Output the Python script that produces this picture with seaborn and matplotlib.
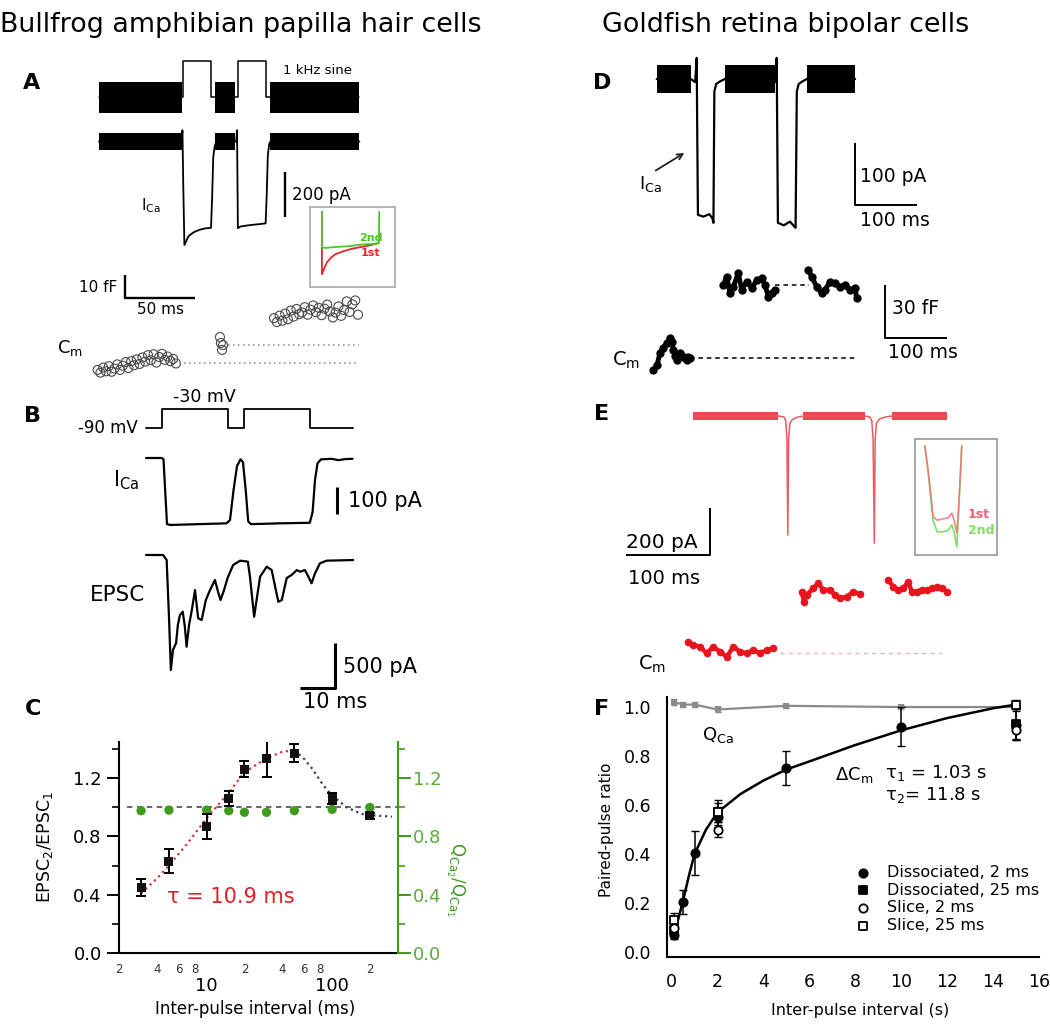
import numpy as np
import pandas as pd
import seaborn as sns
import matplotlib.pyplot as plt
from matplotlib.ticker import LogLocator, FuncFormatter, FixedLocator

sns.set_style("white", {"axes.edgecolor": "black", "text.color": "black",
                        "xtick.color": "black", "ytick.color": "black"})
plt.rcParams['font.family'] = ['DejaVu Sans']
plt.rcParams['mathtext.fontset'] = 'dejavusans'

# ---------------- data (time in ms, current in pA, Cm in fF) ----------------
# A  bullfrog hair cell: sine + step command, Ca current, Cm
a_stim_t = [0, 60, 60, 80, 80, 99, 99, 119, 119, 186]
a_stim_v = [-90, -90, -30, -30, -90, -90, -30, -30, -90, -90]
a_sine_on = [0, 83, 122]
a_sine_off = [59, 97, 186]
a_ica_t = [0, 59, 59.6, 60.2, 61, 64, 68, 72, 76, 80, 80.8, 81.6, 82.5, 83.5,
           97, 98, 98.6, 99.2, 101, 105, 110, 115, 119, 119.8, 120.6, 121.5, 122, 186]
a_ica_i = [0, 0, 50, -200, -460, -420, -402, -392, -386, -384, -250, -70, -25, -5,
           0, 0, 50, -385, -378, -374, -370, -367, -364, -240, -60, -15, -3, 0]
a_cm1_t = [-1, 1, 3, 5, 7, 9, 11, 13, 15, 17, 19, 21, 23, 25, 27, 29, 31, 33, 35,
           37, 39, 41, 43, 45, 47, 49, 51, 53, 55]
a_cm1_c = [-3.0, -4.2, -2.0, -3.6, -1.4, -3.8, -2.4, -0.6, -3.0, -1.2, 0.4, -2.2,
           0.8, -1.0, 1.6, -0.4, 2.4, 0.6, 3.4, 1.2, 3.8, 0.2, 2.6, 4.0, 1.4, 2.8,
           0.8, 1.8, -0.2]
a_cm2_t = [86.4, 87.1, 88.6, 87.9]
a_cm2_c = [11.3, 8.7, 7.8, 5.7]
a_cm3_t = [125, 127, 129, 131, 133, 135, 137, 139, 141, 143, 145, 147, 149, 151,
           153, 155, 157, 159, 161, 163, 165, 167, 169, 171, 173, 175, 177, 179,
           181, 183, 185]
a_cm3_c = [19.5, 17.8, 20.6, 18.4, 21.5, 19.0, 22.8, 20.2, 23.5, 21.2, 22.0, 24.3,
           21.0, 23.2, 25.0, 22.1, 24.0, 20.8, 23.6, 25.4, 22.4, 19.8, 21.9, 24.6,
           20.5, 23.0, 26.8, 22.2, 25.5, 27.2, 21.0]
a_cm_levels = [0, 7.8]
a_cm_level_start = [57, 92]
a_inset_t = [0.14, 0.14, 0.17, 0.20, 0.25, 0.30, 0.40, 0.50, 0.60, 0.70, 0.81]
a_inset_1st = [0.94, 0.16, 0.24, 0.31, 0.37, 0.41, 0.45, 0.48, 0.50, 0.52, 0.55]
a_inset_2nd_t = [0.14, 0.14, 0.20, 0.30, 0.45, 0.60, 0.75, 0.81, 0.815]
a_inset_2nd = [0.94, 0.49, 0.49, 0.50, 0.51, 0.53, 0.54, 0.55, 0.94]

# B  step command, Ca current, EPSC
b_stim_t = [0, 4.6, 4.6, 23.4, 23.4, 28, 28, 46.9, 46.9, 59]
b_stim_v = [-90, -90, -30, -30, -90, -90, -30, -30, -90, -90]
b_ica_t = [0, 4.5, 5.0, 5.6, 6.0, 7, 15, 23, 24.0, 25.0, 26.0, 27.0, 27.7, 28.5,
           29.2, 30, 38, 46.8, 47.6, 48.3, 49.0, 50, 53, 55, 57, 59]
b_ica_i = [0, 0, -5, -150, -245, -248, -245, -242, -230, -120, -30, -5, -15, -120,
           -235, -245, -242, -240, -200, -80, -20, -5, -3, -8, -4, -3]
b_epsc_t = [0, 4.9, 5.9, 6.6, 7.1, 7.7, 8.6, 9.1, 9.7, 10.5, 11.1, 11.6, 12.3, 13.1,
            14.0, 14.9, 15.9, 17.1, 18.3, 19.7, 20.6, 21.3, 22.3, 23.3, 24.9, 26.9,
            29.1, 29.7, 30.9, 31.6, 32.6, 34.5, 35.9, 36.9, 37.8, 38.8, 40.2, 41.6,
            43.1, 44.0, 45.4, 46.4, 47.3, 48.3, 49.7, 51.6, 59.2]
b_epsc_i = [0, 0, -56, -722, -1278, -1056, -978, -778, -667, -630, -797, -1019,
            -778, -611, -389, -703, -722, -500, -389, -278, -411, -500, -389, -256,
            -111, -63, -74, -241, -686, -500, -241, -130, -167, -352, -519, -500,
            -256, -222, -167, -186, -167, -241, -314, -203, -92, -63, -56]

# C  paired-pulse ratio vs interval (ms)
c_interval = [3, 5, 10, 15, 20, 30, 50, 100, 200]
c_epsc = [0.45, 0.63, 0.87, 1.06, 1.26, 1.335, 1.37, 1.06, 0.94]
c_epsc_err = [0.06, 0.08, 0.085, 0.05, 0.055, 0.125, 0.06, 0.04, 0.02]
c_qca = [0.976, 0.98, 0.98, 0.976, 0.965, 0.965, 0.976, 0.985, 0.998]
c_rise_x = [3, 4, 5, 7, 10, 15, 20, 30, 40, 50]
c_rise_y = [0.41, 0.51, 0.60, 0.75, 0.925, 1.10, 1.24, 1.335, 1.38, 1.39]
c_decay_x = [50, 60, 70, 85, 100, 130, 170, 200, 300]
c_decay_y = [1.39, 1.33, 1.26, 1.15, 1.08, 1.00, 0.955, 0.945, 0.935]

# D  goldfish bipolar cell
d_sine_on = [0, 110, 242]
d_sine_off = [55, 191, 320]
d_ica_t = [0, 55, 62, 64.5, 65.5, 66.5, 75, 85, 90, 91.5, 93, 96, 102, 110, 191,
           192.5, 193.5, 194.5, 195.5, 205, 215, 222, 224, 226, 229, 235, 242, 320]
d_ica_i = [0, 0, -5, 34, -100, -219, -222, -218, -225, -232, -20, -8, -4, 0, 0,
           -5, 34, -100, -232, -236, -230, -238, -240, -20, -8, -4, 0, 0]
d_cm1_t = [-5.5, 0.5, 5.3, 10.2, 16.1, 21.5, 24.7, 26.8, 29.5, 32.3, 34.4, 37.6,
           40.8, 45.6, 48.9, 51.0, 53.7]
d_cm1_c = [-6.6, -3.8, 3.0, 5.8, 8.7, 11.5, 9.2, 4.7, 1.3, -1.0, 0.7, 3.0, 1.3,
           0.2, -1.0, 0.7, 0.2]
d_cm2_t = [107.4, 112.9, 118.2, 123.5, 131.6, 137.1, 145.2, 153.2, 161.3, 169.4,
           174.7, 180.0, 185.5, 190.8]
d_cm2_c = [41.5, 46.2, 37.0, 40.5, 48.1, 38.7, 43.4, 39.6, 44.3, 45.3, 41.5, 34.9,
           36.8, 38.7]
d_cm3_t = [244.5, 250, 258, 266, 271.5, 279.5, 287.6, 295.6, 303.7, 311.8, 319.8, 322.6]
d_cm3_c = [50.0, 46.2, 40.5, 36.8, 38.7, 43.4, 42.4, 40.5, 41.5, 38.7, 39.6, 34.0]

# E  goldfish bipolar cell, second example (red)
e_sine_on = [0, 131, 236]
e_sine_off = [101, 204, 302]
e_ica_t = [0, 101, 108, 110, 111.5, 112.5, 113.5, 115, 118, 124, 131, 204, 210,
           212.5, 214, 215.5, 216.5, 218, 222, 229, 236, 302]
e_ica_i = [0, 0, -4, -20, -100, -510, -100, -30, -15, -5, 0, 0, -4, -20, -100,
           -545, -100, -30, -12, -4, 0, 0]
e_cm1_t = [-6, 0, 8, 16, 23.8, 31.8, 39.8, 47.6, 55.6, 63.6, 71.4, 79.4, 87.4, 95.2]
e_cm1_c = [6.2, 4.4, 3.4, -0.3, 3.4, 0.6, -2.3, 3.4, 0.6, -0.3, 1.5, -0.3, 1.5, 2.5]
e_cm2_t = [129, 131.8, 135, 142.9, 148.8, 154.8, 162.7, 168.7, 174.6, 182.6, 190.5, 198.5]
e_cm2_c = [34.5, 28.9, 32.7, 36.4, 39.3, 35.5, 35.5, 32.7, 30.8, 31.7, 34.5, 33.2]
e_cm3_t = [232, 238, 244, 250, 256, 260, 266, 272, 278, 284, 290, 296, 302]
e_cm3_c = [41.1, 37.4, 35.5, 36.4, 40.2, 34.5, 34.5, 35.5, 35.5, 36.4, 37.4, 36.4, 34.5]
e_inset_t = [0.12, 0.16, 0.20, 0.22, 0.27, 0.33, 0.40, 0.45, 0.48, 0.51, 0.53, 0.55, 0.57]
e_inset_1st = [0.94, 0.73, 0.48, 0.33, 0.30, 0.31, 0.32, 0.36, 0.29, 0.19, 0.39, 0.65, 0.94]
e_inset_2nd = [0.94, 0.72, 0.43, 0.30, 0.20, 0.20, 0.21, 0.26, 0.19, 0.07, 0.35, 0.63, 0.94]

# F  paired-pulse ratio vs interval (s)
f_qca_x = [0.1, 0.5, 1, 2, 5, 10, 15]
f_qca_y = [1.02, 1.01, 1.01, 0.99, 1.005, 1.0, 1.0]
f_qca_err = [0.012, 0.01, 0.01, 0.012, 0.008, 0.01, 0.01]
f_fit_x = [0.1, 0.25, 0.5, 0.75, 1, 1.5, 2, 3, 4, 5, 6, 8, 10, 12, 14, 15]
f_fit_y = [0.06, 0.12, 0.21, 0.31, 0.40, 0.50, 0.57, 0.645, 0.70, 0.745, 0.778,
           0.845, 0.905, 0.955, 0.995, 1.01]
f_groups = ["Dissociated, 2 ms", "Dissociated, 25 ms", "Slice, 2 ms", "Slice, 25 ms"]
f_x = [[0.1, 0.5, 1, 2, 5, 10, 15], [0.1, 2, 15], [0.1, 2, 15], [0.1, 2, 15]]
f_y = [[0.07, 0.205, 0.405, 0.55, 0.75, 0.92, 0.925], [0.09, 0.57, 0.93],
       [0.10, 0.50, 0.905], [0.13, 0.57, 1.01]]
f_err = [[0.015, 0.05, 0.09, 0.04, 0.07, 0.08, 0.06], [0.02, 0.04, 0.06],
         [0.02, 0.03, 0.04], [0.03, 0.05, 0.02]]

# ---------------- layout helpers (pixel boxes) ----------------
W, H = 1050, 1028
fig = plt.figure(figsize=(W / 100, H / 100), dpi=100)


def box(x0, y0, x1, y1):
    return [x0 / W, 1 - y1 / H, (x1 - x0) / W, (y1 - y0) / H]


def trace_axes(x0, y0, x1, y1, tx, sx, vy, sy):
    # time 0 at pixel tx (sx px per unit), value 0 at pixel vy (sy px per unit)
    ax = fig.add_axes(box(x0, y0, x1, y1))
    ax.set_xlim((x0 - tx) / sx, (x1 - tx) / sx)
    ax.set_ylim((vy - y1) / sy, (vy - y0) / sy)
    ax.axis("off")
    return ax


def txt(x, y, s, size, ha="left", va="center", **kw):
    fig.text(x / W, 1 - y / H, s, fontsize=size, ha=ha, va=va, **kw)


def trace(ax, t, y, color="black", lw=1.2, **kw):
    sns.lineplot(x=t, y=y, ax=ax, sort=False, estimator=None, color=color,
                 lw=lw, legend=False, **kw)


def bands(ax, on, off, level, amp, color="black"):
    for a, b in zip(on, off):
        ax.fill_between([a, b], level - amp, level + amp, color=color, lw=0)


def bar(ax, xs, ys, lw=1.7):
    ax.plot(xs, ys, color="black", lw=lw, solid_capstyle="butt")


# titles and panel letters
txt(0, 25, "Bullfrog amphibian papilla hair cells", 19.4)
txt(786, 25, "Goldfish retina bipolar cells", 19.4, ha="center")
for letter, x, y in [("A", 32, 83), ("B", 32, 416), ("C", 33, 709),
                     ("D", 602, 83), ("E", 602, 414), ("F", 602, 709)]:
    txt(x, y, letter, 16, ha="center", weight="bold")

# ---------------- panel A ----------------
ax = trace_axes(90, 50, 370, 125, 99, 1.4, 42.75, 0.6083)
bands(ax, a_sine_on, a_sine_off, -90, 25)
trace(ax, a_stim_t, a_stim_v, lw=1.1)

ax = trace_axes(90, 120, 370, 260, 99, 1.4, 141.5, 0.225)
bands(ax, a_sine_on, a_sine_off, 0, 38)
trace(ax, a_ica_t, a_ica_i, lw=1.3)
bar(ax, [133, 133], [-135, -335])

ax = trace_axes(50, 265, 370, 385, 99, 1.4, 363, 2.3)
for lev, start in zip(a_cm_levels, a_cm_level_start):
    ax.plot([start, 186], [lev, lev], color="#9a9a9a", lw=1.2, ls=(0, (1, 2)))
for tt, cc in [(a_cm1_t, a_cm1_c), (a_cm2_t, a_cm2_c), (a_cm3_t, a_cm3_c)]:
    sns.scatterplot(x=tt, y=cc, ax=ax, marker="o", s=42, color="none",
                    edgecolor="#4a4a4a", linewidth=0.8, legend=False)
bar(ax, [18.6, 18.6, 68.6], [38.3, 28.3, 28.3])

txt(283, 70, "1 kHz sine", 9.5)
txt(292, 195, "200 pA", 12)
txt(141, 206, r"$\mathregular{I_{Ca}}$", 11)
txt(79, 287, "10 fF", 11)
txt(160, 310, "50 ms", 11, ha="center")
txt(57, 348, r"$\mathregular{C_m}$", 13)

ins = fig.add_axes(box(310, 207, 395, 287))
ins.set_xlim(0, 1)
ins.set_ylim(0, 1)
ins.set_xticks([])
ins.set_yticks([])
for sp in ins.spines.values():
    sp.set_color("#b0b0b0")
    sp.set_linewidth(1.3)
trace(ins, a_inset_t, a_inset_1st, color="#e8242c", lw=1.3)
trace(ins, a_inset_2nd_t, a_inset_2nd, color="#4cc42c", lw=1.3)
txt(359, 238, "2nd", 8, color="#4cc42c", weight="bold")
txt(361, 253, "1st", 8, color="#e8242c", weight="bold")

# ---------------- panel B ----------------
ax = trace_axes(140, 400, 360, 435, 146, 3.5, 399.5, 0.3167)
trace(ax, b_stim_t, b_stim_v, lw=1.3)
ax = trace_axes(140, 445, 360, 535, 146, 3.5, 458, 0.27)
trace(ax, b_ica_t, b_ica_i, lw=1.6)
bar(ax, [54.6, 54.6], [-107, -207], lw=2.2)
ax = trace_axes(140, 545, 360, 700, 146, 3.5, 555, 0.09)
trace(ax, b_epsc_t, b_epsc_i, lw=1.6)
bar(ax, [44, 54, 54], [-1478, -1478, -978], lw=2.2)

txt(204, 397, "-30 mV", 12.5, ha="center")
txt(138, 428, "-90 mV", 12, ha="right")
txt(113, 480, r"$\mathregular{I_{Ca}}$", 15)
txt(348, 501, "100 pA", 15)
txt(90, 595, "EPSC", 15.5)
txt(343, 667, "500 pA", 15)
txt(303, 702, "10 ms", 15)

# ---------------- panel C ----------------
axC = fig.add_axes(box(119, 742, 398, 953))
axC.set_facecolor("none")
axC.set_xscale("log")
axC.axhline(1.0, color="#555a66", lw=1.3, ls=(0, (3, 2.5)), xmin=0.03)
sns.scatterplot(x=c_interval, y=c_qca, ax=axC, color="#3f9a1e", s=45,
                edgecolor="none", legend=False, zorder=3)
trace(axC, c_rise_x, c_rise_y, color="#d8323c", lw=1.6, linestyle=":")
trace(axC, c_decay_x, c_decay_y, color="#3c4250", lw=1.6, linestyle=":")
axC.errorbar(c_interval, c_epsc, yerr=c_epsc_err, fmt="none", ecolor="black",
             elinewidth=1.4, capsize=3.5, capthick=1.4, zorder=4)
sns.scatterplot(x=c_interval, y=c_epsc, ax=axC, marker="s", color="#111111",
                s=42, edgecolor="none", legend=False, zorder=5)
axC.set_xlim(2, 335)
axC.set_ylim(0, 1.447)
axC.xaxis.set_major_locator(FixedLocator([10, 100]))
axC.xaxis.set_major_formatter(FuncFormatter(lambda v, p: "%d" % v))
axC.xaxis.set_minor_locator(LogLocator(base=10, subs=[2, 3, 4, 5, 6, 7, 8, 9]))


def minor_lab(v, p):
    m = int(round(v / 10 ** np.floor(np.log10(v))))
    return str(m) if m in (2, 4, 6, 8) else ""


axC.xaxis.set_minor_formatter(FuncFormatter(minor_lab))
axC.yaxis.set_major_locator(FixedLocator([0, 0.4, 0.8, 1.2]))
axC.yaxis.set_minor_locator(FixedLocator([0.2, 0.6, 1.0, 1.4]))
axC.yaxis.set_major_formatter(FuncFormatter(lambda v, p: "%.1f" % v))
axC.tick_params(which="major", direction="out", length=9, width=1.4, labelsize=13)
axC.tick_params(which="minor", direction="out", length=5, width=1.2)
axC.tick_params(axis="x", which="major", pad=8)
axC.tick_params(axis="x", which="minor", labelsize=8.5, pad=2, labelcolor="#333333")
axC.spines["top"].set_visible(False)
axC.spines["right"].set_visible(False)
for s in ["left", "bottom"]:
    axC.spines[s].set_linewidth(1.5)

axC2 = axC.twinx()
axC2.set_ylim(0, 1.447)
axC2.yaxis.set_major_locator(FixedLocator([0, 0.4, 0.8, 1.2]))
axC2.yaxis.set_minor_locator(FixedLocator([0.2, 0.6, 1.0, 1.4]))
axC2.yaxis.set_major_formatter(FuncFormatter(lambda v, p: "%.1f" % v))
axC2.tick_params(axis="y", which="major", direction="out", length=9, width=1.4,
                 labelsize=13, color="#3f9a1e", labelcolor="#5aab3c", pad=2)
axC2.tick_params(axis="y", which="minor", direction="out", length=5, width=1.2,
                 color="#3f9a1e")
for s in ["left", "top", "bottom"]:
    axC2.spines[s].set_visible(False)
axC2.spines["right"].set_color("#3f9a1e")
axC2.spines["right"].set_linewidth(1.5)

txt(45, 847, r"EPSC$_\mathregular{2}$/EPSC$_\mathregular{1}$", 12.5, ha="center",
    rotation=90)
txt(455, 880, r"Q$_{\mathregular{Ca_2}}$/Q$_{\mathregular{Ca_1}}$", 12, ha="center",
    rotation=270, color="#3f9a1e")
txt(255, 1009, "Inter-pulse interval (ms)", 12, ha="center")
txt(167, 897, "τ = 10.9 ms", 15, color="#e0202a")

# ---------------- panel D ----------------
ax = trace_axes(640, 50, 940, 240, 656.7, 0.62, 79, 0.62)
bands(ax, d_sine_on, d_sine_off, 0, 22.6)
trace(ax, d_ica_t, d_ica_i, lw=1.6)
bar(ax, [319.7, 319.7, 419.7], [-103, -203, -203], lw=1.4)
ax.annotate("", xy=(48.4, -117), xytext=(-5.5, -150),
            arrowprops=dict(arrowstyle="->", color="#222222", lw=1.3))

ax = trace_axes(640, 260, 960, 380, 656.7, 0.62, 358.3, 1.767)
ax.plot([54, 322], [0, 0], color="black", lw=1.1, ls=(0, (3, 2.5)))
ax.plot([191, 245], [41.5, 41.5], color="black", lw=1.1, ls=(0, (3, 2.5)))
for tt, cc in [(d_cm1_t, d_cm1_c), (d_cm2_t, d_cm2_c), (d_cm3_t, d_cm3_c)]:
    trace(ax, tt, cc, lw=3.5, marker="o", markersize=6, markeredgewidth=0)
bar(ax, [368.2, 368.2, 468.2], [41.5, 11.3, 11.3], lw=1.4)

txt(860, 177, "100 pA", 13.5)
txt(860, 220, "100 ms", 13.5)
txt(892, 308, "30 fF", 13.5)
txt(888, 353, "100 ms", 13.5)
txt(639, 184, r"$\mathregular{I_{Ca}}$", 13)
txt(612, 360, r"$\mathregular{C_m}$", 14)

# ---------------- panel E ----------------
ax = trace_axes(610, 400, 960, 580, 693.3, 0.84, 416, 0.2333)
bands(ax, e_sine_on, e_sine_off, 0, 17, color="#ec4650")
trace(ax, e_ica_t, e_ica_i, color="#ea5a62", lw=1.1)
bar(ax, [19.9, 19.9, -80.1], [-395.6, -595.8, -595.8], lw=1.4)

ax = trace_axes(610, 570, 960, 670, 693.3, 0.84, 652.7, 1.767)
ax.plot([103, 296], [0, 0], color="#f0b4b8", lw=1.0, ls=(0, (3, 3)))
for tt, cc in [(e_cm1_t, e_cm1_c), (e_cm2_t, e_cm2_c), (e_cm3_t, e_cm3_c)]:
    trace(ax, tt, cc, color="#e8141e", lw=3.2, marker="o", markersize=5.5,
          markeredgewidth=0)

ins = fig.add_axes(box(915, 439, 997, 555))
ins.set_xlim(0, 1)
ins.set_ylim(0, 1)
ins.set_xticks([])
ins.set_yticks([])
for sp in ins.spines.values():
    sp.set_color("#a0a0a0")
    sp.set_linewidth(1.3)
trace(ins, e_inset_t, e_inset_2nd, color="#7ee060", lw=1.2)
trace(ins, e_inset_t, e_inset_1st, color="#f07078", lw=1.2, alpha=0.85)
txt(968, 514, "1st", 9, color="#f06070", weight="bold")
txt(968, 531, "2nd", 9, color="#80e060", weight="bold")

txt(626, 543, "200 pA", 14.5)
txt(628, 578, "100 ms", 14)
txt(638, 664, r"$\mathregular{C_m}$", 14)

# ---------------- panel F ----------------
axF = fig.add_axes(box(667, 697, 1039, 957))
axF.set_facecolor("none")
axF.errorbar(f_qca_x, f_qca_y, yerr=f_qca_err, fmt="none", ecolor="#8a8a8a",
             elinewidth=1.2, capsize=2.5)
trace(axF, f_qca_x, f_qca_y, color="#8a8a8a", lw=1.6, marker="s", markersize=5,
      markeredgewidth=0)
trace(axF, f_fit_x, f_fit_y, color="black", lw=1.8)
styles = [("o", "black"), ("s", "black"), ("o", "white"), ("s", "white")]
for grp, xx, yy, ee, (mk, fc) in zip(f_groups, f_x, f_y, f_err, styles):
    axF.errorbar(xx, yy, yerr=ee, fmt="none", ecolor="black", elinewidth=1.1,
                 capsize=3)
    sns.scatterplot(x=xx, y=yy, ax=axF, marker=mk, color=fc, edgecolor="black",
                    linewidth=1.3, s=36, label=grp, zorder=4)
axF.set_xlim(-0.2, 16)
axF.set_ylim(-0.0204, 1.041)
axF.set_xticks([0, 2, 4, 6, 8, 10, 12, 14, 16])
axF.set_yticks([0, 0.2, 0.4, 0.6, 0.8, 1.0])
axF.yaxis.set_major_formatter(FuncFormatter(lambda v, p: "%.1f" % v))
axF.tick_params(direction="out", length=8, width=1.3, labelsize=12.5)
axF.spines["top"].set_visible(False)
axF.spines["right"].set_visible(False)
for s in ["left", "bottom"]:
    axF.spines[s].set_linewidth(1.5)
axF.legend(loc="upper left", bbox_to_anchor=(0.505, 0.355), frameon=False,
           fontsize=11.5, handlelength=1.0, handletextpad=1.0, labelspacing=0.18,
           borderpad=0, borderaxespad=0)

txt(607, 830, "Paired-pulse ratio", 11, ha="center", rotation=90)
txt(860, 1010, "Inter-pulse interval (s)", 11.5, ha="center")
txt(702, 735, r"Q$_\mathregular{Ca}$", 13)
txt(835, 775, r"ΔC$_\mathregular{m}$", 13)
txt(885, 773, "τ$_1$ = 1.03 s", 13)
txt(885, 795, "τ$_2$= 11.8 s", 13)

fig.savefig("out.png", dpi=100)
